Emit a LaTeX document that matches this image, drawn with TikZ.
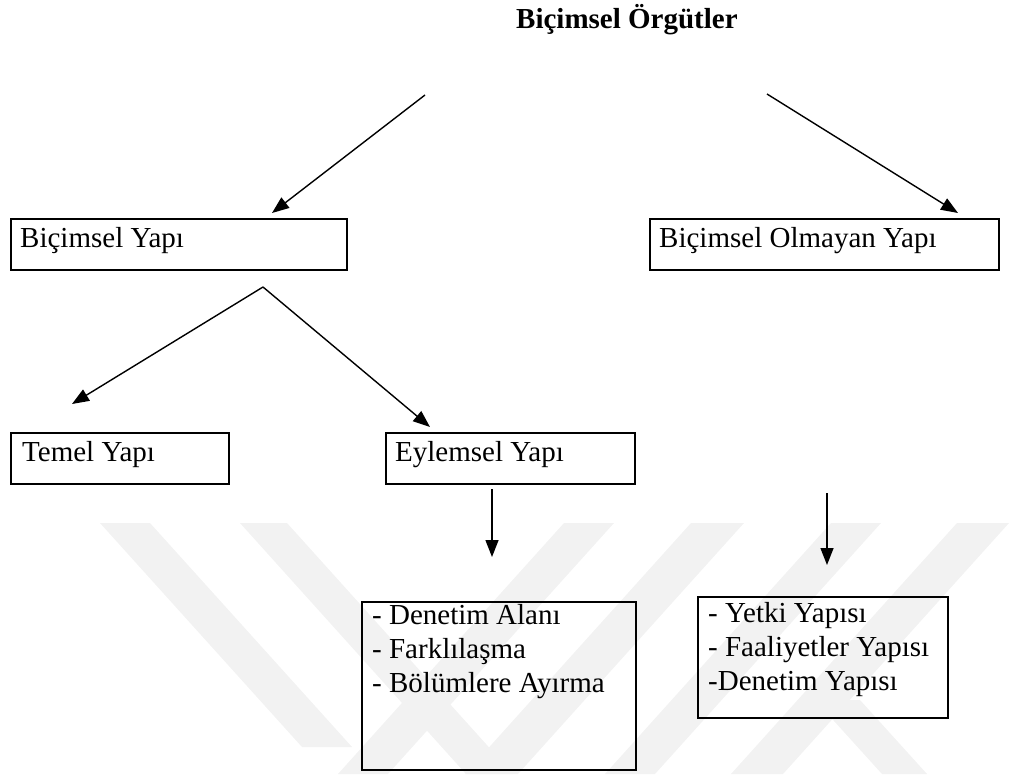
\documentclass[tikz,border=0pt]{standalone}
\usepackage{fontspec}
\setmainfont{Liberation Serif}
\usetikzlibrary{arrows.meta}
\usetikzlibrary{positioning}
\definecolor{Filigran}{HTML}{F2F2F2}

\tikzset{
  kutu/.style={draw, line width=2pt, anchor=north west, inner sep=0pt},
  yazi/.style={anchor=base west, inner sep=0pt, font=\fontsize{29pt}{34pt}\selectfont},
  ok/.style={line width=1.4pt, -{Triangle[length=17pt,width=13pt]}},
}

\begin{document}
\begin{tikzpicture}[x=1pt,y=-1pt]
    \useasboundingbox (0,0) rectangle (1009,774);

    % filigran
    \fill[Filigran] (100,523) -- (150,523) -- (352,747) -- (302,747) -- cycle;
    \fill[Filigran] (240,523) -- (287,523) -- (513,774) -- (466,774) -- cycle;
    \fill[Filigran] (564,523) -- (614,523) -- (388,774) -- (338,774) -- cycle;
    \fill[Filigran] (691,523) -- (744,523) -- (518,774) -- (465,774) -- cycle;
    \fill[Filigran] (831,523) -- (881,523) -- (655,774) -- (605,774) -- cycle;
    \fill[Filigran] (957,523) -- (1009,523) -- (783,774) -- (731,774) -- cycle;
    \fill[Filigran] (815,700) -- (860,700) -- (927,774) -- (882,774) -- cycle;

    \node[yazi, font=\bfseries\fontsize{29pt}{34pt}\selectfont] (baslik) at (516,28) {Biçimsel Örgütler};

    \node[kutu, minimum width=336pt, minimum height=51pt] (bicimsel) at (10,218) {};
    \node[kutu, minimum width=349pt, minimum height=51pt] (olmayan) at (649,218) {};
    \node[kutu, minimum width=218pt, minimum height=51pt] (temel) at (10,432) {};
    \node[kutu, minimum width=249pt, minimum height=51pt] (eylemsel) at (385,432) {};
    \node[kutu, minimum width=274pt, minimum height=168pt] (denetim) at (361,601) {};
    \node[kutu, minimum width=250pt, minimum height=121pt] (yetki) at (697,596) {};

    \node[yazi] (bicimselYazi) at ([xshift=10pt,yshift=-29pt]bicimsel.north west) {Biçimsel Yapı};
    \node[yazi] (olmayanYazi) at ([xshift=10pt,yshift=-29pt]olmayan.north west) {Biçimsel Olmayan Yapı};
    \node[yazi] (temelYazi) at ([xshift=12pt,yshift=-29pt]temel.north west) {Temel Yapı};
    \node[yazi] (eylemselYazi) at ([xshift=10pt,yshift=-29pt]eylemsel.north west) {Eylemsel Yapı};

    \node[yazi] (denetim1) at ([xshift=11pt,yshift=-23pt]denetim.north west) {- Denetim Alanı};
    \node[yazi] (denetim2) at ([yshift=-34pt]denetim1.base west) {- Farklılaşma};
    \node[yazi] (denetim3) at ([yshift=-34pt]denetim2.base west) {- Bölümlere Ayırma};

    \node[yazi] (yetki1) at ([xshift=11pt,yshift=-26pt]yetki.north west) {- Yetki Yapısı};
    \node[yazi] (yetki2) at ([yshift=-34pt]yetki1.base west) {- Faaliyetler Yapısı};
    \node[yazi] (yetki3) at ([yshift=-34pt]yetki2.base west) {-Denetim Yapısı};

    \coordinate (ustSol) at (425,95);
    \coordinate (ustSag) at (767,94);
    \coordinate (tepe) at ([xshift=253pt,yshift=-16pt]bicimsel.south west);
    \coordinate (eylemselAlt) at ([xshift=107pt,yshift=-4pt]eylemsel.south west);
    \coordinate (olmayanAlt) at ([xshift=130pt,yshift=103pt]yetki.north west);

    \draw[ok] (ustSol) -- ([xshift=262pt,yshift=5pt]bicimsel.north west);
    \draw[ok] (ustSag) -- ([xshift=309pt,yshift=5pt]olmayan.north west);
    \draw[ok] (tepe) -- ([xshift=62pt,yshift=28pt]temel.north west);
    \draw[ok] (tepe) -- ([xshift=45pt,yshift=5pt]eylemsel.north west);
    \draw[ok] (eylemselAlt) -- ([xshift=131pt,yshift=44pt]denetim.north west);
    \draw[ok] (olmayanAlt) -- ([xshift=130pt,yshift=31pt]yetki.north west);
\end{tikzpicture}
\end{document}
